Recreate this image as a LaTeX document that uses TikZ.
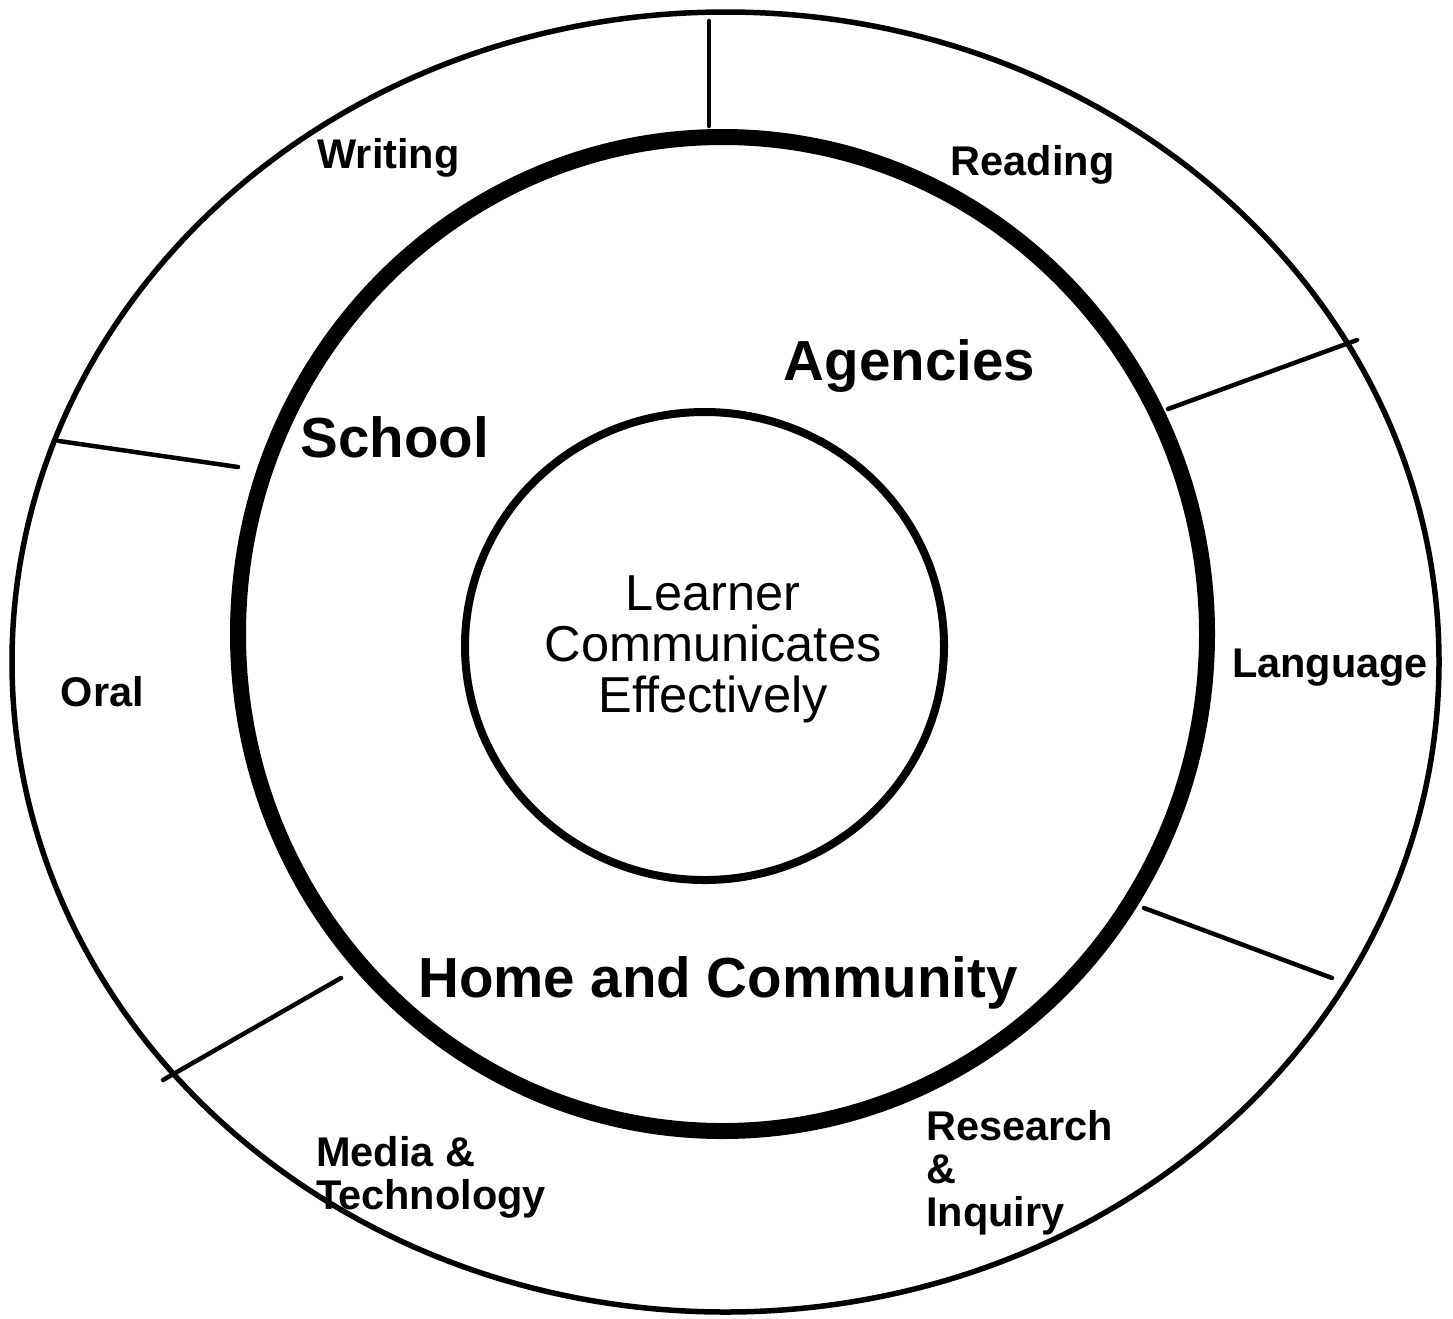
\documentclass[tikz,border=0pt]{standalone}
\usepackage{fontspec}
\setmainfont{Liberation Sans}
\usepackage{tikz}

\begin{document}
\begin{tikzpicture}[x=1pt, y=-1pt,
    ring/.style={draw=black, line width=#1},
    divider/.style={draw=black, line width=4.5pt, line cap=round},
    skill/.style={inner sep=0pt, font=\fontsize{41.5}{43}\selectfont\bfseries, align=left},
    setting/.style={inner sep=0pt, font=\fontsize{56.5}{60}\selectfont\bfseries},
    core/.style={inner sep=0pt, font=\fontsize{50.5}{51}\selectfont, align=center}]
    \useasboundingbox (0,0) rectangle (1453,1318);

    % Rings
    \draw[ring=5.5pt] (725.5,662) ellipse [x radius=713.5pt, y radius=650pt];
    \draw[ring=16pt] (722.5,634) ellipse [x radius=484.5pt, y radius=497pt];
    \draw[ring=8pt] (704.5,646) ellipse [x radius=239.5pt, y radius=234pt];

    % Divider ends
    \coordinate (topout) at (709,21);
    \coordinate (topin) at (709,126);
    \coordinate (rtout) at (1357,340);
    \coordinate (rtin) at (1168,409);
    \coordinate (rbout) at (1332,978);
    \coordinate (rbin) at (1144,908);
    \coordinate (lbout) at (163,1080);
    \coordinate (lbin) at (341,978);
    \coordinate (lout) at (59,441);
    \coordinate (lin) at (238,467);

    % Dividers
    \draw[divider] (topout) -- (topin);
    \draw[divider] (rtout) -- (rtin);
    \draw[divider] (rbout) -- (rbin);
    \draw[divider] (lbout) -- (lbin);
    \draw[divider] (lout) -- (lin);

    % Skills
    \node[skill, anchor=base] (writing) at (388.5,168) {Writing};
    \node[skill, anchor=base] (reading) at (1032.5,175) {Reading};
    \node[skill, anchor=base] (language) at (1330,677) {Language};
    \node[skill, anchor=base] (oral) at (102.5,706) {Oral};
    \node[skill, anchor=base west] (media) at (316,1209) {Media \&\\Technology};
    \node[skill, anchor=base west] (research) at (926,1226) {Research\\\&\\Inquiry};

    % Settings
    \node[setting, anchor=base] (agencies) at (909.5,380) {Agencies};
    \node[setting, anchor=base] (school) at (395,457) {School};
    \node[setting, anchor=base] (home) at (718,997) {Home and Community};

    % Centre
    \node[core, anchor=base] (learner) at (713,712) {Learner\\Communicates\\Effectively};
\end{tikzpicture}
\end{document}
